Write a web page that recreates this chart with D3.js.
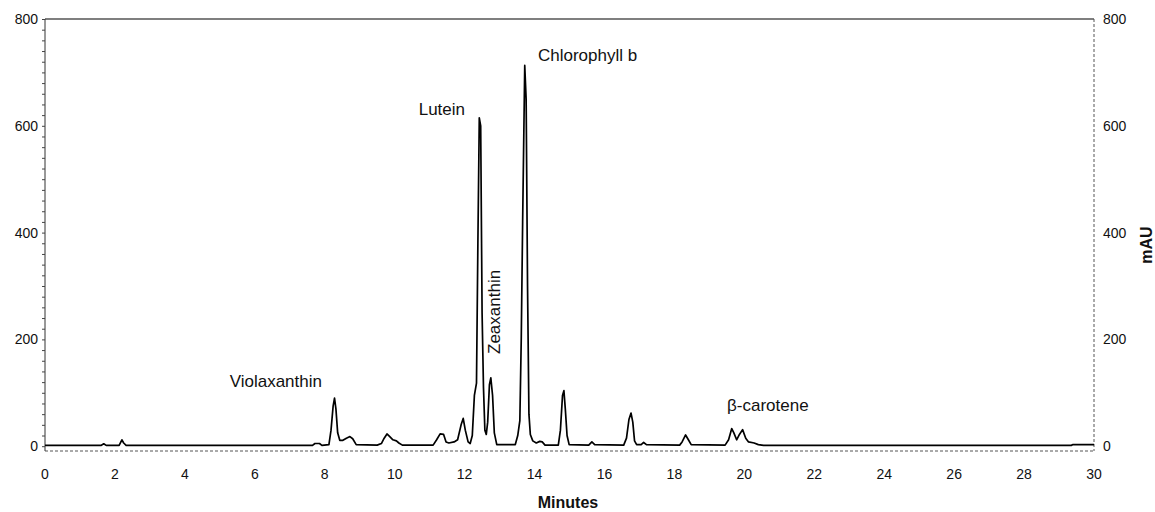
<!DOCTYPE html>
<html>
<head>
	<meta charset="utf-8">
	<title>Chromatogram</title>
	<script src="https://d3js.org/d3.v7.min.js"></script>
	<style type="text/css">
		body {
			margin: 0;
			background: white;
			font-family: Arial, 'Liberation Sans', sans-serif;
		}
		.trace {
			fill: none;
			stroke: black;
			stroke-width: 1.7px;
			stroke-linejoin: round;
		}
		.tick-label {
			font-size: 14px;
			fill: #111;
		}
		.peak-label {
			font-size: 17px;
			fill: #111;
		}
		.axis-title {
			font-size: 16px;
			font-weight: bold;
			fill: #111;
		}
	</style>
</head>
<body>
<div id="svgDiv"></div>

<script type="text/javascript">

// trace: retention time (min) and absorbance (mAU)
var minutes = [0, 1.60, 1.68, 1.75, 2.12, 2.20, 2.25, 2.32, 7.65, 7.72, 7.85, 7.92,
	8.12, 8.18, 8.24, 8.28, 8.32, 8.37, 8.43, 8.52, 8.62, 8.72, 8.80, 8.90,
	9.50, 9.62, 9.70, 9.78, 9.86, 9.95, 10.05, 10.12, 10.22,
	11.10, 11.20, 11.30, 11.40, 11.47, 11.55, 11.70, 11.80, 11.90, 11.96, 12.02, 12.10,
	12.16, 12.22, 12.28, 12.34, 12.38, 12.42, 12.46, 12.50, 12.54, 12.58, 12.62,
	12.66, 12.71, 12.75, 12.80, 12.85, 12.92,
	13.45, 13.52, 13.58, 13.62, 13.66, 13.72, 13.76, 13.80, 13.84, 13.88, 13.95,
	14.05, 14.15, 14.22, 14.30, 14.68, 14.74, 14.80, 14.84, 14.88, 14.93, 14.99,
	15.55, 15.64, 15.72, 16.55, 16.63, 16.70, 16.76, 16.81, 16.86, 16.92,
	17.05, 17.12, 17.20, 18.15, 18.22, 18.32, 18.40, 18.48,
	19.45, 19.55, 19.64, 19.70, 19.78, 19.86, 19.95, 20.04, 20.12, 20.28, 20.40, 20.55,
	29.35, 29.40, 30];
var mAU = [1.5, 1.5, 4.5, 1.5, 1.5, 12, 6, 1.5, 1.5, 5, 5, 1.5,
	3, 30, 75, 90, 70, 25, 11, 11, 15, 18, 14, 3,
	2, 5, 15, 23, 18, 12, 10, 6, 2,
	2, 12, 23, 22, 8, 6, 8, 12, 40, 52, 30, 8,
	5, 20, 95, 118, 380, 615, 600, 250, 110, 30, 22,
	45, 115, 128, 95, 25, 3,
	3, 20, 48, 200, 420, 713, 650, 300, 60, 22, 10,
	6, 9, 8, 2, 2, 30, 95, 104, 70, 20, 3,
	2, 8, 3, 2, 15, 50, 62, 45, 10, 3,
	3, 7, 3, 2, 8, 21, 12, 3,
	2, 12, 33, 25, 12, 22, 31, 15, 8, 6, 3, 1.5,
	1.5, 3, 3];

// peak names
var peakNames = ["Violaxanthin", "Lutein", "Zeaxanthin", "Chlorophyll b", "\u03B2-carotene"];
var peakTimes = [8.28, 12.42, 12.75, 13.72, 19.8];

var xTicks = d3.range(0, 31, 2);
var yTicks = [0, 200, 400, 600, 800];
var yMinor = d3.range(0, 801, 20);

var width = 1155,
	height = 512;

var x = d3.scaleLinear().domain([0, 30]).range([45, 1094]);
var y = d3.scaleLinear().domain([-9, 800]).range([451, 19]);

var svg = d3.select("#svgDiv").append("svg")
	.attr("width", width)
	.attr("height", height);

// frame: solid top & left, dashed bottom & right
svg.append("line")
	.attr("x1", x(0)).attr("x2", x(30))
	.attr("y1", y(800)).attr("y2", y(800))
	.attr("stroke", "black").attr("stroke-width", 1.2);
svg.append("line")
	.attr("x1", x(0)).attr("x2", x(30))
	.attr("y1", y(-9)).attr("y2", y(-9))
	.attr("stroke", "#555").attr("stroke-width", 1)
	.attr("stroke-dasharray", "3,2");
svg.append("line")
	.attr("x1", x(30)).attr("x2", x(30))
	.attr("y1", y(800)).attr("y2", y(-9))
	.attr("stroke", "#555").attr("stroke-width", 1)
	.attr("stroke-dasharray", "3,2");

// left axis with minor ticks every 20
var leftAxis = d3.axisLeft(y)
	.tickValues(yMinor)
	.tickSize(3)
	.tickFormat("");
var gl = svg.append("g")
	.attr("transform", "translate(" + x(0) + ",0)")
	.call(leftAxis);
gl.select(".domain").attr("stroke", "#333").attr("d", "M0," + y(800) + "V" + y(-9));
gl.selectAll(".tick line").attr("stroke", "#444");

svg.selectAll(".ylab-left")
	.data(yTicks).enter()
	.append("text")
	.attr("class", "tick-label")
	.attr("x", x(0) - 7)
	.attr("y", function (d) { return y(d); })
	.attr("dy", "0.36em")
	.attr("text-anchor", "end")
	.text(function (d) { return d; });

svg.selectAll(".ylab-right")
	.data(yTicks).enter()
	.append("text")
	.attr("class", "tick-label")
	.attr("x", x(30) + 9)
	.attr("y", function (d) { return y(d); })
	.attr("dy", "0.36em")
	.attr("text-anchor", "start")
	.text(function (d) { return d; });

svg.selectAll(".xlab")
	.data(xTicks).enter()
	.append("text")
	.attr("class", "tick-label")
	.attr("x", function (d) { return x(d); })
	.attr("y", 479)
	.attr("text-anchor", "middle")
	.text(function (d) { return d; });

// axis titles
svg.append("text")
	.attr("class", "axis-title")
	.attr("x", 568)
	.attr("y", 508)
	.attr("text-anchor", "middle")
	.text("Minutes");

svg.append("text")
	.attr("class", "axis-title")
	.attr("transform", "translate(1152,245) rotate(-90)")
	.attr("text-anchor", "middle")
	.text("mAU");

// the trace
var trace = minutes.map(function (t, i) { return [t, mAU[i]]; });
var line = d3.line()
	.x(function (d) { return x(d[0]); })
	.y(function (d) { return y(d[1]); });

svg.append("path")
	.datum(trace)
	.attr("class", "trace")
	.attr("d", line);

// peak annotations
var labelPos = [
	{ dx: 0, y: 387, anchor: "end", rot: false },
	{ dx: 0, y: 115, anchor: "end", rot: false },
	{ dx: 0, y: 354, anchor: "start", rot: true },
	{ dx: 0, y: 61, anchor: "start", rot: false },
	{ dx: 0, y: 411, anchor: "start", rot: false }
];
var labelX = [322, 465, 500, 538, 727];

peakNames.forEach(function (name, i) {
	var p = labelPos[i];
	var t = svg.append("text")
		.attr("class", "peak-label")
		.attr("text-anchor", p.anchor)
		.text(name);
	if (p.rot) {
		t.attr("transform", "translate(" + labelX[i] + "," + p.y + ") rotate(-90)");
	} else {
		t.attr("x", labelX[i]).attr("y", p.y);
	}
});

</script>
</body>
</html>
